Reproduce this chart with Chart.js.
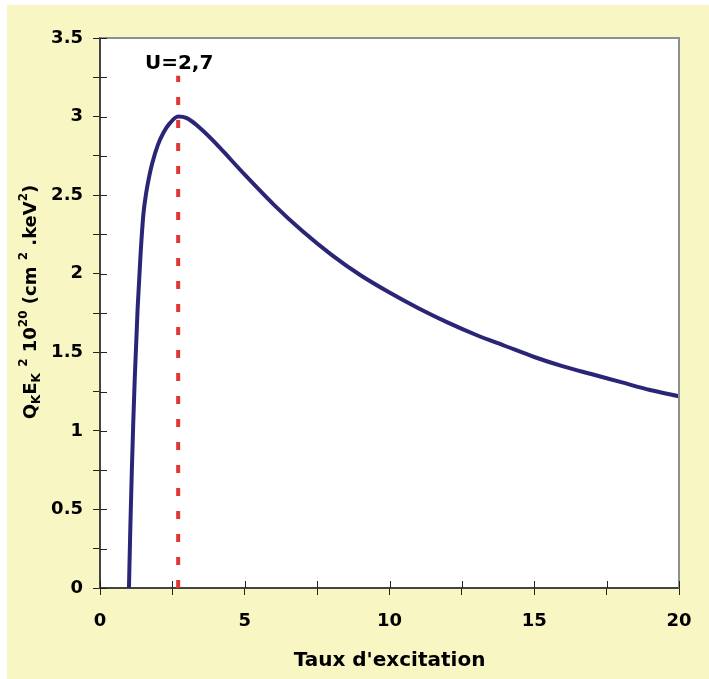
<!DOCTYPE html>
<html>
<head>
<meta charset="utf-8">
<script src="https://cdn.jsdelivr.net/npm/chart.js@4"></script>
<style>
  html, body { margin: 0; padding: 0; background: #ffffff; }
  #box { position: absolute; left: 7px; top: 5px; width: 702px; height: 674px; }
</style>
</head>
<body>
<div id="box"><canvas id="c"></canvas></div>
<script>
// values
const uValues = [1.0, 1.05, 1.1, 1.15, 1.2, 1.3, 1.4, 1.5, 1.6, 1.7, 1.8, 2.0, 2.2, 2.4, 2.7, 3.0, 3.5, 4, 4.5, 5, 6, 7, 8, 9, 10, 11, 12, 13, 14, 15, 16, 17, 18, 19, 20];
const qValues = [0, 0.40, 0.75, 1.06, 1.33, 1.78, 2.12, 2.38, 2.52, 2.62, 2.70, 2.82, 2.90, 2.955, 3.00, 2.99, 2.92, 2.83, 2.73, 2.63, 2.44, 2.27, 2.12, 1.99, 1.88, 1.78, 1.69, 1.61, 1.54, 1.47, 1.41, 1.36, 1.31, 1.26, 1.22];
const markerU = 2.7;
const markerTop = 3.26;
const markerLabel = 'U=2,7';
const xTitle = "Taux d'excitation";
const FONT = '"DejaVu Sans", Verdana, sans-serif';

const curve = uValues.map((u, i) => ({ x: u, y: qValues[i] }));

const decor = {
  id: 'decor',
  beforeDraw(chart) {
    const { ctx, chartArea: a } = chart;
    ctx.save();
    ctx.fillStyle = '#f8f6c2';
    ctx.fillRect(0, 0, chart.width, chart.height);
    ctx.fillStyle = '#ffffff';
    ctx.fillRect(a.left, a.top, a.right - a.left, a.bottom - a.top);
    ctx.restore();
  },
  afterDraw(chart) {
    const { ctx, chartArea: a, scales } = chart;
    ctx.save();
    // top and right frame
    ctx.strokeStyle = '#8a9196';
    ctx.lineWidth = 2;
    ctx.beginPath();
    ctx.moveTo(a.left, a.top);
    ctx.lineTo(a.right, a.top);
    ctx.lineTo(a.right, a.bottom);
    ctx.stroke();

    // inner half of the crossing tick marks
    ctx.strokeStyle = '#222';
    ctx.lineWidth = 1;
    ctx.beginPath();
    scales.x.ticks.forEach(t => {
      const px = Math.round(scales.x.getPixelForValue(t.value)) + 0.5;
      ctx.moveTo(px, a.bottom);
      ctx.lineTo(px, a.bottom - 7);
    });
    scales.y.ticks.forEach(t => {
      const py = Math.round(scales.y.getPixelForValue(t.value)) + 0.5;
      ctx.moveTo(a.left, py);
      ctx.lineTo(a.left + 7, py);
    });
    ctx.stroke();

    // marker label
    ctx.fillStyle = '#000';
    ctx.font = 'bold 20px ' + FONT;
    ctx.textAlign = 'center';
    ctx.textBaseline = 'middle';
    ctx.fillText(markerLabel, scales.x.getPixelForValue(markerU) + 1, scales.y.getPixelForValue(3.335));

    // y axis title with sub/superscripts
    const parts = [
      ['Q', 'n'], ['K', 'sub'], ['E', 'n'], ['K', 'sub'], [' ', 'n'], ['2', 'sup'],
      [' 10', 'n'], ['20', 'sup'], [' (cm', 'n'], [' ', 'n'], ['2', 'sup'], [' .keV', 'n'], ['2', 'sup'], [')', 'n']
    ];
    const fontFor = t => t === 'n' ? 'bold 18px ' + FONT : 'bold 12px ' + FONT;
    let total = 0;
    parts.forEach(p => { ctx.font = fontFor(p[1]); total += ctx.measureText(p[0]).width; });
    const cy = (a.top + a.bottom) / 2 - 11;
    ctx.translate(29, cy);
    ctx.rotate(-Math.PI / 2);
    ctx.textAlign = 'left';
    ctx.textBaseline = 'alphabetic';
    let x = -total / 2;
    parts.forEach(p => {
      ctx.font = fontFor(p[1]);
      const dy = p[1] === 'sub' ? 4 : p[1] === 'sup' ? -9 : 0;
      ctx.fillText(p[0], x, dy);
      x += ctx.measureText(p[0]).width;
    });
    ctx.restore();
  }
};

new Chart(document.getElementById('c'), {
  type: 'scatter',
  data: {
    datasets: [
      {
        data: curve,
        showLine: true,
        borderColor: '#2a2577',
        borderWidth: 4,
        pointRadius: 0,
        cubicInterpolationMode: 'monotone',
        order: 1
      },
      {
        data: [{ x: markerU, y: 0 }, { x: markerU, y: markerTop }],
        showLine: true,
        borderColor: '#e03636',
        borderWidth: 4,
        borderDash: [8, 15],
        borderCapStyle: 'butt',
        pointRadius: 0,
        order: 2
      }
    ]
  },
  options: {
    responsive: true,
    maintainAspectRatio: false,
    animation: false,
    layout: { padding: { left: 0, top: 33, right: 30, bottom: 0 } },
    plugins: {
      legend: { display: false },
      tooltip: { enabled: false }
    },
    scales: {
      x: {
        type: 'linear',
        min: 0,
        max: 20,
        afterFit(scale) { scale.height = 91; },
        border: { display: true, color: '#444', width: 2 },
        grid: { drawOnChartArea: false, drawTicks: true, tickLength: 7, color: '#222', tickWidth: 1 },
        ticks: {
          stepSize: 2.5,
          autoSkip: false,
          maxRotation: 0,
          padding: 16,
          color: '#000',
          font: { family: FONT, size: 18, weight: 'bold' },
          callback: v => (v % 5 === 0 ? String(v) : '')
        },
        title: {
          display: true,
          text: xTitle,
          color: '#000',
          padding: { top: 0, bottom: 6 },
          font: { family: FONT, size: 20, weight: 'bold' }
        }
      },
      y: {
        type: 'linear',
        min: 0,
        max: 3.5,
        afterFit(scale) { scale.width = 93; },
        border: { display: true, color: '#444', width: 2 },
        grid: { drawOnChartArea: false, drawTicks: true, tickLength: 7, color: '#222', tickWidth: 1 },
        ticks: {
          stepSize: 0.25,
          autoSkip: false,
          padding: 10,
          color: '#000',
          font: { family: FONT, size: 18, weight: 'bold' },
          callback: v => (v % 0.5 === 0 ? String(v) : '')
        }
      }
    }
  },
  plugins: [decor]
});
</script>
</body>
</html>
